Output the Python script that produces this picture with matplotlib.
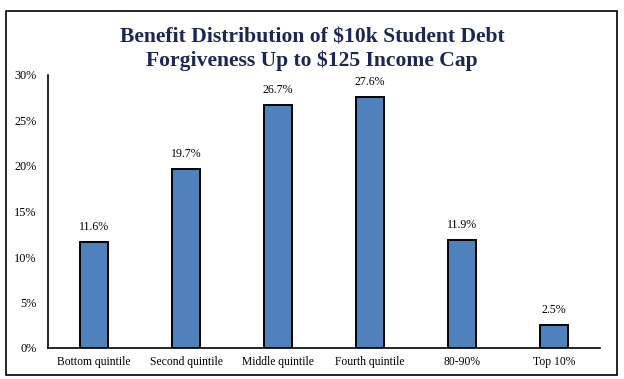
import matplotlib.pyplot as plt
from matplotlib.patches import Rectangle

# Chart data
categories = ['Bottom quintile', 'Second quintile', 'Middle quintile',
              'Fourth quintile', '80-90%', 'Top 10%']
shares = [11.6, 19.7, 26.7, 27.6, 11.9, 2.5]
value_labels = ['11.6%', '19.7%', '26.7%', '27.6%', '11.9%', '2.5%']
y_ticks = [0, 5, 10, 15, 20, 25, 30]
y_tick_labels = ['0%', '5%', '10%', '15%', '20%', '25%', '30%']

plt.rcParams['font.family'] = ['Liberation Serif', 'DejaVu Serif']

W, H = 624, 379
fig = plt.figure(figsize=(W / 100, H / 100), dpi=100)

# outer frame around the whole chart
fig.patches.append(Rectangle((6 / W, 1 - 375 / H), 611 / W, 364 / H,
                             transform=fig.transFigure, fill=False,
                             edgecolor='black', linewidth=1.2))

# title
fig.text(312 / W, 1 - 37 / H, 'Benefit Distribution of $10k Student Debt',
         ha='center', va='center', fontsize=15.6, fontweight='bold', color='#1c2757')
fig.text(312 / W, 1 - 61 / H, 'Forgiveness Up to $125 Income Cap',
         ha='center', va='center', fontsize=15.6, fontweight='bold', color='#1c2757')

ax = fig.add_axes([48 / W, 1 - 348 / H, 552 / W, 273 / H])
x = range(len(categories))
bars = ax.bar(x, shares, width=0.31, color='#4f81bd', edgecolor='black', linewidth=1.4)

for b, lab in zip(bars, value_labels):
    ax.text(b.get_x() + b.get_width() / 2, b.get_height() + 1.0, lab,
            ha='center', va='bottom', fontsize=8.6)

ax.set_xlim(-0.5, len(categories) - 0.5)
ax.set_ylim(0, 30)
ax.set_yticks(y_ticks)
ax.set_yticklabels(y_tick_labels, fontsize=8.8)
ax.set_xticks(list(x))
ax.set_xticklabels(categories, fontsize=8.4)
ax.tick_params(axis='both', length=0)
ax.tick_params(axis='y', pad=8)
ax.tick_params(axis='x', pad=6)

for s in ['top', 'right']:
    ax.spines[s].set_visible(False)
ax.spines['left'].set_linewidth(1.2)
ax.spines['bottom'].set_linewidth(1.2)

fig.savefig('out.png', dpi=100)
